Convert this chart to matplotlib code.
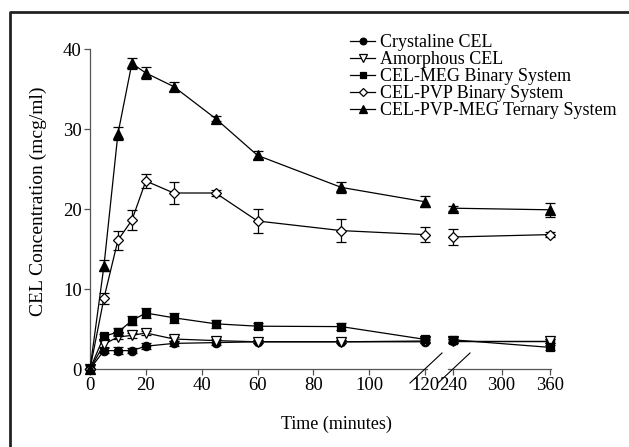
import matplotlib
matplotlib.use("Agg")
import matplotlib.pyplot as plt
from matplotlib.lines import Line2D
import numpy as np

plt.rcParams['font.family'] = ['Liberation Serif', 'DejaVu Serif']

times = [0, 5, 10, 15, 20, 30, 45, 60, 90, 120, 240, 360]

crystaline = [0, 2.3, 2.3, 2.3, 2.85, 3.2, 3.3, 3.4, 3.4, 3.4, 3.5, 3.5]
crystaline_err = [0, 0.3, 0.4, 0.3, 0.35, 0.3, 0.3, 0.2, 0.2, 0.2, 0.2, 0.2]

amorphous = [0, 3.1, 4.0, 4.2, 4.5, 3.75, 3.55, 3.4, 3.4, 3.5, 3.5, 3.5]
amorphous_err = [0, 0.4, 0.3, 0.3, 0.3, 0.2, 0.2, 0.2, 0.2, 0.2, 0.2, 0.3]

meg_binary = [0, 4.1, 4.6, 6.05, 7.0, 6.4, 5.65, 5.35, 5.3, 3.7, 3.65, 2.7]
meg_binary_err = [0, 0.3, 0.5, 0.6, 0.6, 0.6, 0.5, 0.4, 0.4, 0.3, 0.3, 0.3]

pvp_binary = [0, 8.85, 16.1, 18.6, 23.5, 22.0, 22.0, 18.5, 17.3, 16.8, 16.5, 16.8]
pvp_binary_err = [0, 0.7, 1.2, 1.25, 0.9, 1.35, 0.4, 1.55, 1.4, 0.9, 0.95, 0.3]

ternary = [0, 12.9, 29.4, 38.2, 37.0, 35.3, 31.3, 26.7, 22.7, 20.9, 20.1, 19.9]
ternary_err = [0, 0.7, 0.8, 0.7, 0.7, 0.6, 0.3, 0.5, 0.7, 0.7, 0.3, 0.9]

labels = ["Crystaline CEL", "Amorphous CEL", "CEL-MEG Binary System",
          "CEL-PVP Binary System", "CEL-PVP-MEG Ternary System"]

yticks = [0, 10, 20, 30, 40]
xticks1 = [0, 20, 40, 60, 80, 100, 120]
xticks2 = [240, 300, 360]

series = [
    (crystaline, crystaline_err, 'o', 'black'),
    (amorphous, amorphous_err, 'v', 'white'),
    (meg_binary, meg_binary_err, 's', 'black'),
    (pvp_binary, pvp_binary_err, 'D', 'white'),
    (ternary, ternary_err, '^', 'black'),
]
msizes = {'o': 6, 'v': 6.5, 's': 5.5, 'D': 5.5, '^': 6.5}

W, H = 629, 447
fig = plt.figure(figsize=(W / 100, H / 100), dpi=100)

def fx(px):
    return px / W

def fy(py):
    return 1 - py / H

bottom = fy(369)
top = fy(49)
ax1 = fig.add_axes([fx(90), bottom, fx(427) - fx(90), top - bottom])
ax2 = fig.add_axes([fx(448), bottom, fx(551) - fx(448), top - bottom], sharey=ax1)

t = np.array(times)
split = 10
handles = []
for (vals, errs, m, fc) in series:
    v = np.array(vals)
    e = np.array(errs)
    for ax, sl in ((ax1, slice(0, split)), (ax2, slice(split, None))):
        cont = ax.errorbar(t[sl], v[sl], yerr=e[sl], color='black', lw=0.9,
                           marker=m, ms=msizes[m], mfc=fc, mec='black', mew=0.9,
                           capsize=3.5, capthick=0.9, elinewidth=0.9,
                           clip_on=False, zorder=3)
        for art in cont.get_children():
            art.set_clip_on(False)
    handles.append(Line2D([], [], color='black', lw=0.9, marker=m,
                          ms=msizes[m] * 0.8, mfc=fc, mec='black', mew=0.9))

spine_c = '#555555'
for ax in (ax1, ax2):
    ax.spines['top'].set_visible(False)
    ax.spines['right'].set_visible(False)
    for s in ('left', 'bottom'):
        ax.spines[s].set_color(spine_c)
        ax.spines[s].set_linewidth(0.9)
    ax.tick_params(direction='out', length=4, width=0.9, color=spine_c,
                   labelsize=13.5, pad=2)
    ax.set_facecolor('none')

ax1.set_xlim(0, 120.7)
ax2.set_xlim(234, 361)
ax1.set_ylim(0, 40)
ax1.set_yticks(yticks)
ax1.set_xticks(xticks1)
ax2.set_xticks(xticks2)
ax2.spines['left'].set_visible(False)
ax2.tick_params(axis='y', left=False, labelleft=False)

# break marks
for (x0, y0, x1, y1) in ((410, 383, 442, 353), (438, 383, 470, 353)):
    fig.add_artist(Line2D([fx(x0), fx(x1)], [fy(y0), fy(y1)],
                          transform=fig.transFigure, color='black', lw=0.8))

fig.text(fx(38), fy(201), "CEL Concentration (mcg/ml)", rotation=90,
         ha='center', va='center', fontsize=14)
fig.text(fx(336), fy(424), "Time (minutes)", ha='center', va='center',
         fontsize=13)

fig.legend(handles, labels, loc='upper left', bbox_to_anchor=(fx(350), fy(34)),
           frameon=False, fontsize=13, handlelength=1.4, handletextpad=0.25,
           labelspacing=0.0, borderpad=0, borderaxespad=0)

# outer frame
fig.add_artist(Line2D([fx(10), fx(10), fx(700)], [fy(500), fy(12), fy(12)],
                      transform=fig.transFigure, color='#222222', lw=2))

fig.savefig("out.png", dpi=100)
